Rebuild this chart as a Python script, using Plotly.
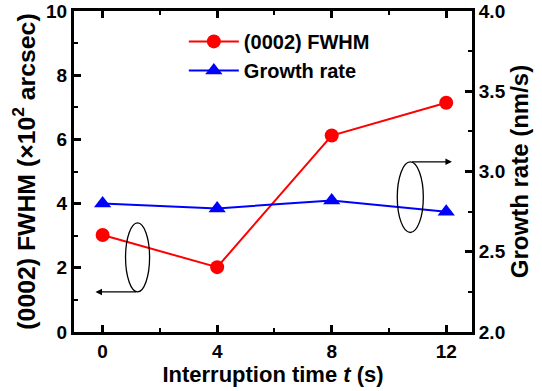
import plotly.graph_objects as go

time_s = [0, 4, 8, 12]
fwhm = [3.02, 2.02, 6.12, 7.14]
growth_rate = [2.80, 2.77, 2.82, 2.75]
x_ticks = [0, 4, 8, 12]
y_ticks = [0, 2, 4, 6, 8, 10]
y2_ticks = [2.0, 2.5, 3.0, 3.5, 4.0]

font_family = "Liberation Sans, Arial, sans-serif"

fig = go.Figure()
fig.add_trace(go.Scatter(x=time_s, y=fwhm, name="<b>(0002) FWHM</b>", mode="lines+markers",
                         line=dict(color="#ff0000", width=2),
                         marker=dict(symbol="circle", size=14, color="#ff0000")))
fig.add_trace(go.Scatter(x=time_s, y=growth_rate, name="<b>Growth rate</b>", mode="lines+markers",
                         yaxis="y2",
                         line=dict(color="#0000ff", width=2),
                         marker=dict(symbol="triangle-up", size=15, color="#0000ff")))

axis_common = dict(showline=True, linecolor="black", linewidth=3, ticks="inside", ticklen=7,
                   tickwidth=2.5, tickcolor="black", showgrid=False, zeroline=False,
                   tickfont=dict(family=font_family, size=19, color="black"))
minor_common = dict(ticks="inside", ticklen=4, tickwidth=2, tickcolor="black")

fig.update_layout(
    width=542, height=391,
    margin=dict(l=74, r=70, t=11, b=59, autoexpand=False),
    plot_bgcolor="white", paper_bgcolor="white",
    font=dict(family=font_family, color="black"),
    showlegend=True,
    legend=dict(x=0.276, y=0.966, xanchor="left", yanchor="top", bgcolor="rgba(0,0,0,0)",
                font=dict(family=font_family, size=20, color="black"), itemwidth=50,
                tracegroupgap=0),
    xaxis=dict(range=[-1, 12.9], tickvals=x_ticks, ticktext=[f"<b>{v}</b>" for v in x_ticks],
               mirror="ticks", minor=dict(dtick=2, tick0=0, **minor_common),
               title=dict(text="<b>Interruption time <i>t</i> (s)</b>", standoff=3,
                          font=dict(family=font_family, size=22, color="black")),
               **axis_common),
    yaxis=dict(range=[0, 10], tickvals=y_ticks, ticktext=[f"<b>{v}</b>" for v in y_ticks],
               minor=dict(dtick=1, tick0=0, **minor_common),
               title=dict(text="<b>(0002) FWHM (×10<sup>2</sup> arcsec)</b>", standoff=4,
                          font=dict(family=font_family, size=24.8, color="black")),
               **axis_common),
    yaxis2=dict(range=[2.0, 4.0], tickvals=y2_ticks, ticktext=[f"<b>{v:.1f}</b>" for v in y2_ticks],
                overlaying="y", side="right",
                minor=dict(dtick=0.25, tick0=2.0, **minor_common),
                title=dict(text="<b>Growth rate (nm/s)</b>", standoff=4,
                           font=dict(family=font_family, size=24, color="black")),
                **axis_common),
)

# ellipses
fig.add_shape(type="circle", xref="x", yref="y", x0=0.8, x1=1.64, y0=1.25, y1=3.4,
              line=dict(color="black", width=1.3))
fig.add_shape(type="circle", xref="x", yref="y", x0=10.29, x1=11.2, y0=3.1, y1=5.3,
              line=dict(color="black", width=1.3))
# arrows
fig.add_annotation(x=-0.25, y=1.25, ax=1.22, ay=1.25, xref="x", yref="y", axref="x", ayref="y",
                   showarrow=True, arrowhead=2, arrowsize=1, arrowwidth=1.3, arrowcolor="black", text="")
fig.add_annotation(x=12.2, y=5.3, ax=10.75, ay=5.3, xref="x", yref="y", axref="x", ayref="y",
                   showarrow=True, arrowhead=2, arrowsize=1, arrowwidth=1.3, arrowcolor="black", text="")

fig.write_html("out.html", config={"displayModeBar": False},
               post_script="document.body.style.margin='0';")
